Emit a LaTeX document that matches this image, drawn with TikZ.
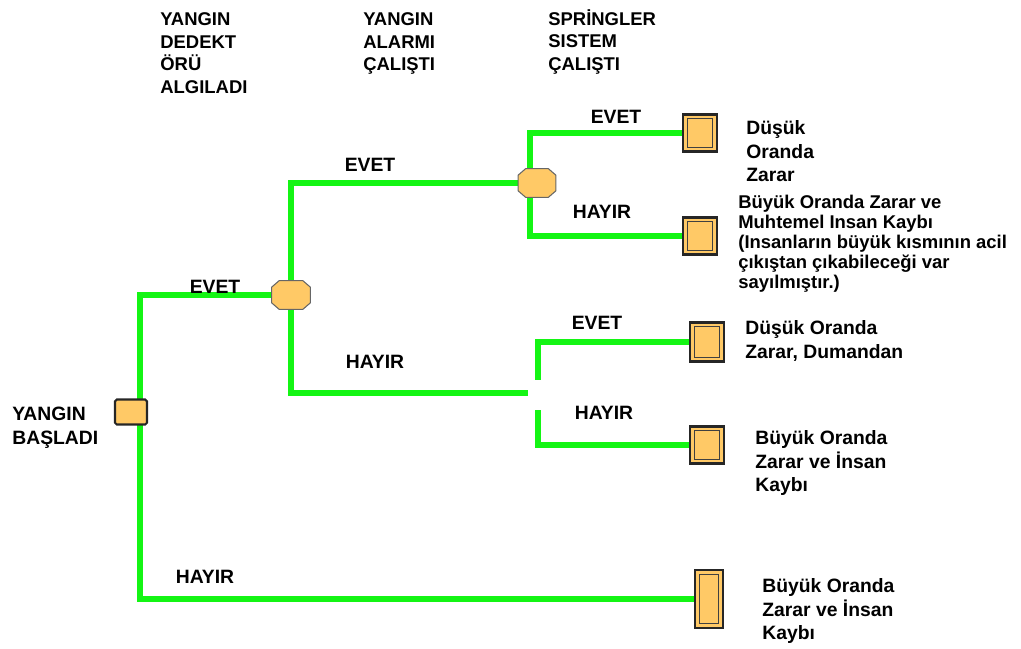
\documentclass[tikz,border=0pt]{standalone}
\usepackage{fontspec}
\setmainfont{Liberation Sans}
\usetikzlibrary{backgrounds}
\definecolor{dalyesil}{RGB}{20,245,20}
\definecolor{kutu}{RGB}{255,201,102}

\begin{document}
\begin{tikzpicture}[x=0.02cm, y=-0.02cm,
  dal/.style={draw=dalyesil, line width=2.9pt},
  karar/.style={minimum width=0.76cm, minimum height=0.56cm, inner sep=0pt},
  sonuc/.style={draw=black!85, fill=kutu, line width=1.2pt, inner sep=0pt,
    path picture={\draw[black!75, line width=0.6pt] ([shift={(0.085cm,0.085cm)}]path picture bounding box.south west)
      rectangle ([shift={(-0.085cm,-0.085cm)}]path picture bounding box.north east);}},
  yazi/.style={font=\bfseries\fontsize{11}{13.5}\selectfont, align=left, anchor=north west, inner sep=0pt},
  etiket/.style={font=\bfseries\fontsize{11}{13}\selectfont, inner sep=0pt}]
  \useasboundingbox (0,0) rectangle (1021,649);
  % basliklar
  \node[yazi, font=\bfseries\fontsize{10.5}{13}\selectfont] (b1) at (160,12) {YANGIN\\DEDEKT\\ÖRÜ\\ALGILADI};
  \node[yazi, font=\bfseries\fontsize{10.5}{13}\selectfont] (b2) at (363,12) {YANGIN\\ALARMI\\ÇALIŞTI};
  \node[yazi, font=\bfseries\fontsize{10.5}{13}\selectfont] (b3) at (548,9) {SPRİNGLER\\SISTEM\\ÇALIŞTI};
  % dugumler
  \node[draw=black!85, fill=kutu, line width=1.2pt, rounded corners=1pt, minimum width=0.64cm,
        minimum height=0.5cm] (basla) at (131,412) {};
  \node[yazi] (tbasla) at (12,407) {YANGIN\\BAŞLADI};
  \node[karar] (k1) at (291,295) {};
  \node[karar, minimum width=0.74cm] (k2) at (537,183) {};
  \foreach \k in {k1,k2}
    \filldraw[fill=kutu, draw=black!60, line width=0.6pt]
      ([xshift=0.15cm]\k.north west) -- ([xshift=-0.15cm]\k.north east) -- ([yshift=-0.13cm]\k.north east)
      -- ([yshift=0.13cm]\k.south east) -- ([xshift=-0.15cm]\k.south east) -- ([xshift=0.15cm]\k.south west)
      -- ([yshift=0.13cm]\k.south west) -- ([yshift=-0.13cm]\k.north west) -- cycle;
  \node[sonuc, minimum width=0.68cm, minimum height=0.74cm] (s1) at (700,133) {};
  \node[sonuc, minimum width=0.68cm, minimum height=0.74cm] (s2) at (700,236) {};
  \node[sonuc, minimum width=0.68cm, minimum height=0.78cm] (s3) at (707,342) {};
  \node[sonuc, minimum width=0.68cm, minimum height=0.74cm] (s4) at (707,445) {};
  \node[sonuc, minimum width=0.56cm, minimum height=1.16cm] (s5) at (709,599) {};
  \coordinate (kes) at (528,393);
  \coordinate (ust) at (538,380);
  \coordinate (alt) at (538,410);
  % dallar
  \begin{scope}[on background layer]
    \draw[dal] (k1) -| ([xshift=0.18cm]basla.center) |- (s5);
    \draw[dal] (k2) -| (k1) |- (kes);
    \draw[dal] (s1) -| ([xshift=-0.14cm]k2.center) |- (s2);
    \draw[dal] (s3) -| (ust);
    \draw[dal] (s4) -| (alt);
  \end{scope}
  % etiketler
  \node[etiket] (e1) at (215,287) {EVET};
  \node[etiket] (h1) at (205,577) {HAYIR};
  \node[etiket] (e2) at (370,165) {EVET};
  \node[etiket] (h2) at (375,362) {HAYIR};
  \node[etiket] (e3) at (616,117) {EVET};
  \node[etiket] (h3) at (602,212) {HAYIR};
  \node[etiket] (e4) at (597,323) {EVET};
  \node[etiket] (h4) at (604,413) {HAYIR};
  % sonuclar
  \node[yazi] (t1) at (746,120) {Düşük\\Oranda\\Zarar};
  \node[yazi, font=\bfseries\fontsize{10.5}{11.4}\selectfont] (t2) at (738,195)
    {Büyük Oranda Zarar ve\\Muhtemel Insan Kaybı\\(Insanların büyük kısmının acil\\çıkıştan çıkabileceği var\\sayılmıştır.)};
  \node[yazi] (t3) at (745,320) {Düşük Oranda\\Zarar, Dumandan};
  \node[yazi] (t4) at (755,430) {Büyük Oranda\\Zarar ve İnsan\\Kaybı};
  \node[yazi] (t5) at (762,578) {Büyük Oranda\\Zarar ve İnsan\\Kaybı};
\end{tikzpicture}
\end{document}
